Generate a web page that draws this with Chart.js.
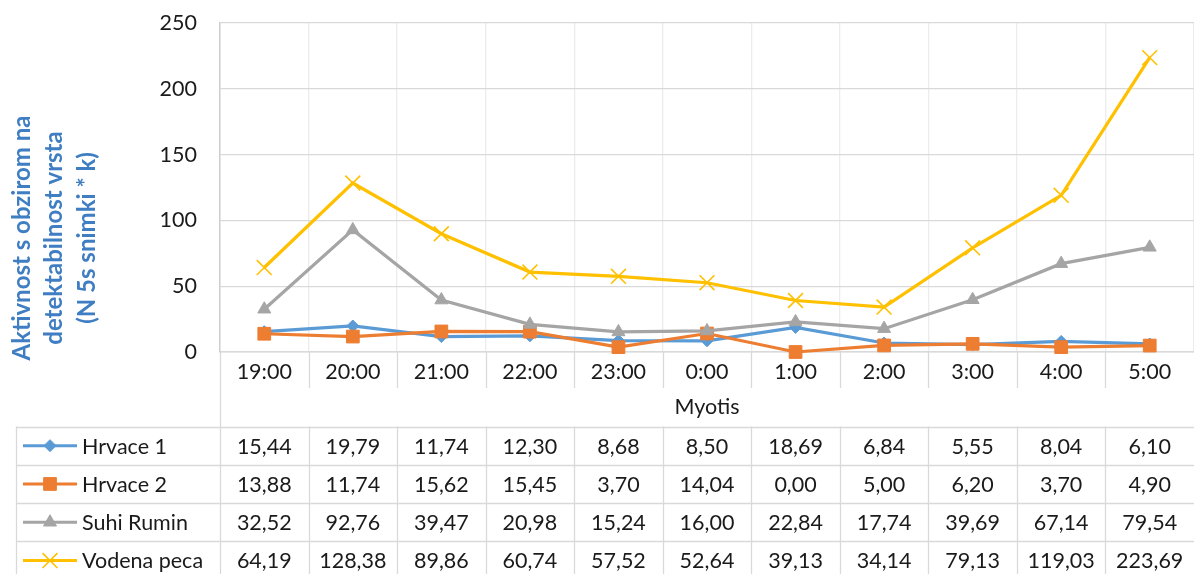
<!DOCTYPE html>
<html>
<head>
<meta charset="utf-8">
<script src="https://cdn.jsdelivr.net/npm/chart.js@4.4.0/dist/chart.umd.min.js"></script>
<style>
  body { margin: 0; background: #fff; }
  canvas { display: block; }
</style>
</head>
<body>
<canvas id="myChart" width="1194" height="574"></canvas>
<script>
// data
const hours = ['19:00', '20:00', '21:00', '22:00', '23:00', '0:00', '1:00', '2:00', '3:00', '4:00', '5:00'];
const seriesNames = ['Hrvace 1', 'Hrvace 2', 'Suhi Rumin', 'Vodena peca'];
const hrvace1 = [15.44, 19.79, 11.74, 12.30, 8.68, 8.50, 18.69, 6.84, 5.55, 8.04, 6.10];
const hrvace2 = [13.88, 11.74, 15.62, 15.45, 3.70, 14.04, 0.00, 5.00, 6.20, 3.70, 4.90];
const suhiRumin = [32.52, 92.76, 39.47, 20.98, 15.24, 16.00, 22.84, 17.74, 39.69, 67.14, 79.54];
const vodenaPeca = [64.19, 128.38, 89.86, 60.74, 57.52, 52.64, 39.13, 34.14, 79.13, 119.03, 223.69];
const yTicks = [0, 50, 100, 150, 200, 250];
const yTitleLines = ['Aktivnost s obzirom na', 'detektabilnost vrsta', '(N 5s snimki * k)'];
const xTitle = 'Myotis';

// style
const colors = ['#5B9BD5', '#ED7D31', '#A5A5A5', '#FFC000'];
const pointStyles = ['rectRot', 'rect', 'triangle', 'crossRot'];
const pointSizes = [6, 9, 7.5, 10.5];
const pointBorders = [1, 1, 1, 1.6];
const textColor = '#1a1a1a';
const gridColor = '#d9d9d9';
const FONT = 'Lato, "Open Sans", sans-serif';
const FONT_SIZE = 21.5;

const allSeries = [hrvace1, hrvace2, suhiRumin, vodenaPeca];

const fmt = v => v.toFixed(2).replace('.', ',');

function drawMarker(ctx, i, x, y) {
    ctx.fillStyle = colors[i];
    ctx.strokeStyle = colors[i];
    ctx.lineWidth = pointBorders[i];
    Chart.helpers.drawPoint(ctx, {
        pointStyle: pointStyles[i],
        radius: pointSizes[i],
        rotation: 0,
        borderWidth: pointBorders[i]
    }, x, y);
}

const dataTable = {
    id: 'dataTable',
    afterDraw(chart) {
        const { ctx, chartArea, scales: { x } } = chart;
        const half = (x.getPixelForValue(1) - x.getPixelForValue(0)) / 2;
        const top = 426.5, rowH = 38.3, bottom = chart.height;
        const line = (x1, y1, x2, y2) => {
            ctx.beginPath();
            ctx.moveTo(x1, y1);
            ctx.lineTo(x2, y2);
            ctx.stroke();
        };

        ctx.save();
        ctx.strokeStyle = gridColor;
        ctx.lineWidth = 1.3;

        // table rows
        for (let r = 0; r < seriesNames.length; r++) {
            const ry = Math.round(top + r * rowH) + 0.5;
            line(16, ry, chartArea.right, ry);
        }
        line(16.5, top, 16.5, bottom);

        // column lines below the plot
        hours.forEach((h, i) => {
            const bx = Math.round(x.getPixelForValue(i) - half) + 0.5;
            if (i === 0) {
                line(bx, chartArea.bottom, bx, bottom);
            } else {
                line(bx, chartArea.bottom, bx, 388);
                line(bx, top, bx, bottom);
            }
        });

        // values + legend keys
        ctx.font = FONT_SIZE + 'px ' + FONT;
        ctx.textBaseline = 'middle';
        allSeries.forEach((data, r) => {
            const cy = top + r * rowH + rowH / 2;
            ctx.fillStyle = textColor;
            ctx.textAlign = 'center';
            data.forEach((v, i) => {
                ctx.fillText(fmt(v), x.getPixelForValue(i), cy + 1);
            });

            ctx.strokeStyle = colors[r];
            ctx.lineWidth = 3;
            line(23, cy, 77, cy);
            drawMarker(ctx, r, 50, cy);

            ctx.fillStyle = textColor;
            ctx.textAlign = 'left';
            ctx.fillText(seriesNames[r], 82, cy + 1);
        });

        // y axis title
        ctx.fillStyle = '#3F7EC2';
        ctx.font = 'bold 24px ' + FONT;
        ctx.textAlign = 'center';
        ctx.textBaseline = 'middle';
        yTitleLines.forEach((t, k) => {
            ctx.save();
            ctx.translate(22 + k * 32.5, 238);
            ctx.rotate(-Math.PI / 2);
            ctx.fillText(t, 0, 0);
            ctx.restore();
        });
        ctx.restore();
    }
};

const chartData = {
    labels: hours,
    datasets: allSeries.map((data, i) => ({
        label: seriesNames[i],
        data: data,
        borderColor: colors[i],
        backgroundColor: colors[i],
        borderWidth: 3.2,
        pointStyle: pointStyles[i],
        pointRadius: pointSizes[i],
        pointBorderWidth: pointBorders[i],
        pointBackgroundColor: colors[i],
        pointBorderColor: colors[i],
        tension: 0,
        clip: false,
        order: allSeries.length - i
    }))
};

const chartOptions = {
    responsive: false,
    animation: false,
    events: [],
    layout: { autoPadding: false, padding: { top: 23, left: 0, right: 0, bottom: 0 } },
    scales: {
        x: {
            offset: true,
            grid: { offset: true, color: '#ececec', drawTicks: false, lineWidth: 1.3 },
            border: { color: gridColor, width: 1.5 },
            ticks: { color: textColor, font: { family: FONT, size: FONT_SIZE }, padding: 7, maxRotation: 0 },
            title: {
                display: true,
                text: xTitle,
                color: textColor,
                font: { family: FONT, size: FONT_SIZE },
                padding: { top: 4, bottom: 154 }
            },
            afterFit: scale => {
                scale.height = 574 - 352;
                scale.paddingLeft = 0;
                scale.paddingRight = 0;
            }
        },
        y: {
            min: 0,
            max: 250,
            afterBuildTicks: scale => { scale.ticks = yTicks.map(v => ({ value: v })); },
            grid: { color: gridColor, drawTicks: false, lineWidth: 1.3 },
            border: { color: '#cfcfcf', width: 1.5 },
            ticks: { color: textColor, font: { family: FONT, size: FONT_SIZE }, padding: 23 },
            afterFit: scale => {
                scale.width = 220;
                scale.paddingTop = 0;
                scale.paddingBottom = 0;
            }
        }
    },
    plugins: {
        legend: { display: false },
        tooltip: { enabled: false }
    }
};

const ctx = document.getElementById('myChart').getContext('2d');
new Chart(ctx, {
    type: 'line',
    data: chartData,
    options: chartOptions,
    plugins: [dataTable]
});
</script>
</body>
</html>
